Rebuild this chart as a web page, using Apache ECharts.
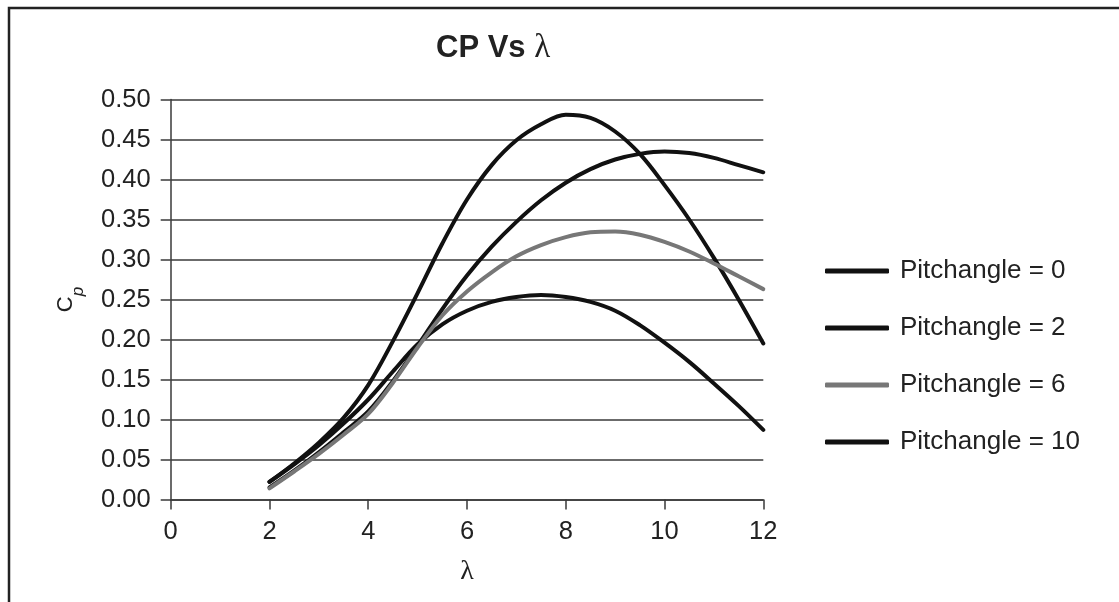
<!DOCTYPE html>
<html>
<head>
<meta charset="utf-8">
<script src="https://cdn.jsdelivr.net/npm/echarts@6/dist/echarts.min.js"></script>
<style>
html,body{margin:0;padding:0;background:#fff;}
#chart{width:1119px;height:602px;}
</style>
</head>
<body>
<div id="chart"></div>
<script>
// ---- data ----
const lambdaValues = [2, 2.5, 3, 3.5, 4, 4.5, 5, 5.5, 6, 6.5, 7, 7.5, 8, 8.5, 9, 9.5, 10, 10.5, 11, 11.5, 12];
const cpPitch0  = [0.022, 0.045, 0.071, 0.102, 0.143, 0.198, 0.258, 0.320, 0.375, 0.418, 0.449, 0.469, 0.481, 0.477, 0.460, 0.432, 0.393, 0.350, 0.302, 0.250, 0.195];
const cpPitch2  = [0.015, 0.036, 0.059, 0.084, 0.110, 0.148, 0.192, 0.238, 0.280, 0.316, 0.347, 0.374, 0.396, 0.413, 0.425, 0.432, 0.435, 0.433, 0.427, 0.418, 0.409];
const cpPitch6  = [0.014, 0.035, 0.057, 0.081, 0.107, 0.146, 0.190, 0.230, 0.260, 0.284, 0.304, 0.318, 0.328, 0.334, 0.335, 0.331, 0.322, 0.310, 0.295, 0.279, 0.263];
const cpPitch10 = [0.022, 0.044, 0.068, 0.095, 0.125, 0.160, 0.194, 0.219, 0.236, 0.247, 0.253, 0.2555, 0.253, 0.247, 0.236, 0.218, 0.196, 0.172, 0.145, 0.117, 0.087];
const seriesNames = ['Pitchangle = 0', 'Pitchangle = 2', 'Pitchangle = 6', 'Pitchangle = 10'];
const seriesColors = ['#111111', '#111111', '#777777', '#111111'];
const xTicks = [0, 2, 4, 6, 8, 10, 12];
const yTicks = [0, 0.05, 0.10, 0.15, 0.20, 0.25, 0.30, 0.35, 0.40, 0.45, 0.50];

const allSeries = [cpPitch0, cpPitch2, cpPitch6, cpPitch10];
const chart = echarts.init(document.getElementById('chart'), null, {renderer: 'canvas'});
const gridColor = '#3a3a3a';
const font = 'Liberation Sans, Arial, Helvetica, sans-serif';

const option = {
  backgroundColor: '#ffffff',
  animation: false,
  title: {
    text: '{b|CP Vs }{l|λ}',
    left: 436,
    top: 32,
    padding: 0,
    textStyle: {
      rich: {
        b: {fontFamily: font, fontWeight: 'bold', fontSize: 31, color: '#222'},
        l: {fontFamily: 'Liberation Serif, Times New Roman, serif', fontWeight: 'normal', fontSize: 33, color: '#222'}
      }
    }
  },
  legend: {
    orient: 'vertical',
    left: 825,
    top: 258,
    padding: 0,
    icon: 'roundRect',
    itemWidth: 64,
    itemHeight: 5,
    itemGap: 31,
    data: seriesNames,
    textStyle: {fontFamily: font, fontSize: 26, lineHeight: 26, color: '#222', padding: [0, 0, 0, 6]}
  },
  grid: {left: 170.7, right: 355.7, top: 99.5, bottom: 102.5, containLabel: false},
  xAxis: {
    type: 'value',
    min: 0,
    max: 12,
    interval: 2,
    name: 'λ',
    nameLocation: 'middle',
    nameGap: 58,
    nameTextStyle: {fontFamily: 'Liberation Serif, Times New Roman, serif', fontSize: 28, color: '#222'},
    axisLine: {show: true, lineStyle: {color: gridColor, width: 1.5}},
    axisTick: {show: true, inside: false, length: 10, lineStyle: {color: gridColor, width: 1.5}},
    axisLabel: {fontFamily: font, fontSize: 25.5, color: '#222', margin: 19,
      formatter: v => xTicks.includes(v) ? String(v) : ''},
    splitLine: {show: false}
  },
  yAxis: {
    type: 'value',
    min: 0,
    max: 0.5,
    interval: 0.05,
    name: '{c|C}{p|p}',
    nameLocation: 'middle',
    nameRotate: 90,
    nameGap: 84,
    nameTextStyle: {
      rich: {
        c: {fontFamily: font, fontSize: 22, color: '#222', lineHeight: 32, verticalAlign: 'top'},
        p: {fontFamily: font, fontSize: 17, fontStyle: 'italic', color: '#222', lineHeight: 12, verticalAlign: 'bottom'}
      }
    },
    axisLine: {show: true, lineStyle: {color: gridColor, width: 1.5}},
    axisTick: {show: true, inside: false, length: 10, lineStyle: {color: gridColor, width: 1.5}},
    axisLabel: {fontFamily: font, fontSize: 25.5, color: '#222', margin: 20,
      formatter: v => {
        const t = yTicks.find(k => Math.abs(k - v) < 1e-9);
        return t === undefined ? '' : t.toFixed(2);
      }},
    splitLine: {show: true, lineStyle: {color: gridColor, width: 1.5}}
  },
  graphic: [{
    type: 'polyline',
    shape: {points: [[9, 602], [9, 8], [1119, 8]]},
    style: {stroke: '#222', lineWidth: 2.5, fill: null},
    silent: true
  }],
  series: allSeries.map((arr, i) => ({
    type: 'line',
    name: seriesNames[i],
    data: lambdaValues.map((x, j) => [x, arr[j]]),
    smooth: 0.35,
    symbol: 'none',
    color: seriesColors[i],
    lineStyle: {color: seriesColors[i], width: 4, cap: 'round'},
    z: i === 2 ? 3 : 2
  }))
};
chart.setOption(option);
</script>
</body>
</html>
